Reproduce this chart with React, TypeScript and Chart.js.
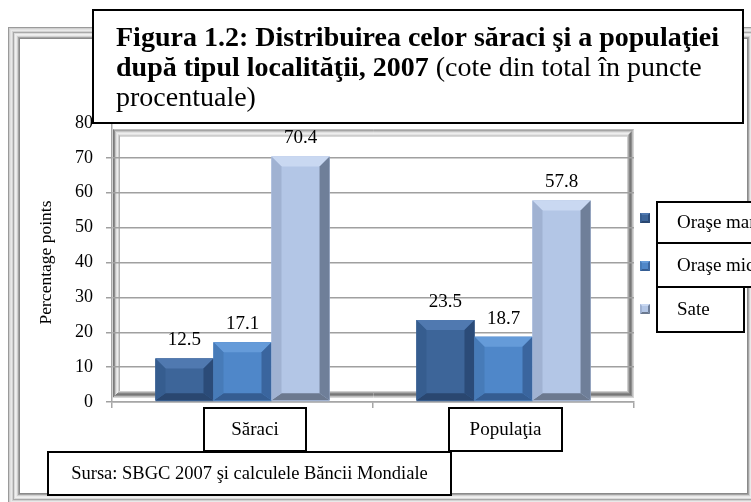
import React, { useEffect, useRef } from 'react';
import { Chart, registerables } from 'chart.js';

Chart.register(...registerables);

// ---------- data ----------
const categories = ['Săraci', 'Populaţia'];
const seriesNames = ['Oraşe mari', 'Oraşe mici', 'Sate'];
const orasMari = [12.5, 23.5];
const orasMici = [17.1, 18.7];
const sate = [70.4, 57.8];
const yMin = 0;
const yMax = 80;
const yStep = 10;
const yAxisTitle = 'Percentage points';
const titleLine1Bold = 'Figura 1.2: Distribuirea celor săraci şi a populaţiei';
const titleLine2Bold = 'după tipul localităţii, 2007';
const titleLine2Regular = ' (cote din total în puncte';
const titleLine3Regular = 'procentuale)';
const sourceText = 'Sursa: SBGC 2007 şi calculele Băncii Mondiale';

// ---------- styles ----------
const SERIF = "'Liberation Serif', 'Times New Roman', Times, serif";
type Pal = { face: string; top: string; left: string; right: string; bottom: string };
const palettes: Pal[] = [
  { face: '#3d6599', top: '#5079b0', left: '#365d8f', right: '#2b4b78', bottom: '#2a4770' },
  { face: '#4f87c9', top: '#659bd9', left: '#477bb8', right: '#3a659e', bottom: '#355d92' },
  { face: '#b3c6e6', top: '#c9d8f1', left: '#a0b2d2', right: '#6f7f99', bottom: '#6c798f' },
];

function bevelRect(ctx: CanvasRenderingContext2D, l: number, t: number, r: number, b: number, p: Pal, size: number) {
  const s = Math.max(0, Math.min(size, (b - t) / 2.2, (r - l) / 2.2));
  const sb = Math.min(s, 7);
  ctx.fillStyle = p.face;
  ctx.fillRect(l, t, r - l, b - t);
  const poly = (pts: number[][], c: string) => {
    ctx.beginPath();
    ctx.moveTo(pts[0][0], pts[0][1]);
    for (let i = 1; i < pts.length; i++) ctx.lineTo(pts[i][0], pts[i][1]);
    ctx.closePath();
    ctx.fillStyle = c;
    ctx.fill();
  };
  poly([[l, t], [r, t], [r - s, t + s], [l + s, t + s]], p.top);
  poly([[l, b], [r, b], [r - s, b - sb], [l + s, b - sb]], p.bottom);
  poly([[l, t], [l + s, t + s], [l + s, b - sb], [l, b]], p.left);
  poly([[r, t], [r - s, t + s], [r - s, b - sb], [r, b]], p.right);
}

function box(ctx: CanvasRenderingContext2D, x: number, y: number, w: number, h: number) {
  ctx.fillStyle = '#ffffff';
  ctx.fillRect(x, y, w, h);
  ctx.strokeStyle = '#000000';
  ctx.lineWidth = 2;
  ctx.strokeRect(x, y, w, h);
}

const outerTL = ['#9a9a9a', '#cfcfcf', '#e0e0e0', '#e9e9e9', '#d2d2d2', '#a8a8a8', '#dadada', '#f0f0f0', '#e9e9e9', '#d0d0d0', '#a3a3a3', '#8a8a8a'];
const wallTL = ['#7a7a7a', '#8e8e8e', '#c4c4c4', '#e0e0e0', '#ececec', '#d0d0d0', '#b2b2b2'];
const wallBR = ['#d6d6d6', '#bdbdbd', '#8e8e8e', '#777777', '#868686', '#aaaaaa', '#cfcfcf'];

const decor = {
  id: 'decor',
  beforeDraw(chart: any) {
    const ctx: CanvasRenderingContext2D = chart.ctx;
    ctx.save();
    ctx.fillStyle = '#ffffff';
    ctx.fillRect(0, 0, chart.width, chart.height);
    // outer chart frame
    const oL = 8, oT = 27, oR = 759, oB = 505;
    outerTL.forEach((c, i) => {
      ctx.strokeStyle = c;
      ctx.lineWidth = 1;
      ctx.strokeRect(oL + i + 0.5, oT + i + 0.5, oR - oL - 2 * i - 1, oB - oT - 2 * i - 1);
    });
    // plot wall frame
    const a = chart.chartArea;
    const L = a.left + 1, T = a.top + 6.5, R = a.right, B = a.bottom - 4;
    for (let i = 0; i < wallTL.length; i++) {
      ctx.lineWidth = 1;
      ctx.strokeStyle = wallTL[i];
      ctx.beginPath();
      ctx.moveTo(L + i, T + i + 0.5); ctx.lineTo(R - i, T + i + 0.5);
      ctx.moveTo(L + i + 0.5, T + i); ctx.lineTo(L + i + 0.5, B - i);
      ctx.stroke();
      ctx.strokeStyle = wallBR[i];
      ctx.beginPath();
      ctx.moveTo(L + i, B - i - 0.5); ctx.lineTo(R - i, B - i - 0.5);
      ctx.moveTo(R - i - 0.5, T + i); ctx.lineTo(R - i - 0.5, B - i);
      ctx.stroke();
    }
    ctx.restore();
  },
  afterDatasetsDraw(chart: any) {
    const ctx: CanvasRenderingContext2D = chart.ctx;
    ctx.save();
    chart.data.datasets.forEach((ds: any, di: number) => {
      const meta = chart.getDatasetMeta(di);
      meta.data.forEach((el: any, i: number) => {
        const l = el.x - el.width / 2, r = el.x + el.width / 2;
        const t = Math.min(el.y, el.base), b = Math.max(el.y, el.base) - 1;
        bevelRect(ctx, l, t, r, b, palettes[di], 10);
        ctx.fillStyle = '#000';
        ctx.font = `19px ${SERIF}`;
        ctx.textAlign = 'center';
        ctx.textBaseline = 'middle';
        ctx.fillText(Number(ds.data[i]).toFixed(1), el.x, t - 18);
      });
    });
    ctx.restore();
  },
  afterDraw(chart: any) {
    const ctx: CanvasRenderingContext2D = chart.ctx;
    ctx.save();
    // title box
    box(ctx, 93, 10, 650, 113);
    ctx.fillStyle = '#000';
    ctx.textAlign = 'left';
    ctx.textBaseline = 'alphabetic';
    ctx.font = `bold 28px ${SERIF}`;
    ctx.fillText(titleLine1Bold, 116, 46);
    ctx.fillText(titleLine2Bold, 116, 76);
    const w2 = ctx.measureText(titleLine2Bold).width;
    ctx.font = `28px ${SERIF}`;
    ctx.fillText(titleLine2Regular, 116 + w2, 76);
    ctx.fillText(titleLine3Regular, 116, 106);

    // category label boxes
    const xs = chart.scales.x;
    const catBoxes = [
      { dx: 12.5, w: 102 },
      { dx: 2, w: 113 },
    ];
    ctx.font = `19px ${SERIF}`;
    ctx.textAlign = 'center';
    ctx.textBaseline = 'middle';
    categories.forEach((c, i) => {
      const cx = xs.getPixelForValue(i) + catBoxes[i].dx;
      const w = catBoxes[i].w;
      box(ctx, cx - w / 2, 408, w, 43);
      ctx.fillStyle = '#000';
      ctx.fillText(c, cx, 430);
    });

    // source box
    box(ctx, 48, 452, 403, 43);
    ctx.fillStyle = '#000';
    ctx.font = `18.5px ${SERIF}`;
    ctx.fillText(sourceText, 249.5, 474);

    // legend
    const legRows = [
      { y: 202, h: 41, w: 110, my: 218 },
      { y: 243, h: 44, w: 110, my: 266 },
      { y: 287, h: 45, w: 87, my: 309 },
    ];
    seriesNames.forEach((n, i) => {
      const r = legRows[i];
      bevelRect(ctx, 640, r.my - 5, 650, r.my + 5, palettes[i], 2);
      box(ctx, 657, r.y, r.w, r.h);
      ctx.fillStyle = '#000';
      ctx.font = `19px ${SERIF}`;
      ctx.textAlign = 'left';
      ctx.textBaseline = 'middle';
      ctx.fillText(n, 677, r.y + r.h / 2 + 1);
    });
    ctx.restore();
  },
};

export default function App() {
  const ref = useRef<HTMLCanvasElement>(null);
  useEffect(() => {
    const canvas = ref.current as HTMLCanvasElement;
    const chart = new Chart(canvas, {
      type: 'bar',
      data: {
        labels: categories,
        datasets: [
          { label: seriesNames[0], data: orasMari, backgroundColor: palettes[0].face },
          { label: seriesNames[1], data: orasMici, backgroundColor: palettes[1].face },
          { label: seriesNames[2], data: sate, backgroundColor: palettes[2].face },
        ],
      },
      options: {
        responsive: false,
        animation: false,
        devicePixelRatio: 1,
        layout: { padding: { left: 0, top: 123, right: 117, bottom: 94 } },
        plugins: { legend: { display: false }, tooltip: { enabled: false }, title: { display: false } },
        datasets: { bar: { barPercentage: 1, categoryPercentage: 0.667 } },
        scales: {
          x: {
            type: 'category',
            offset: true,
            grid: { display: true, drawOnChartArea: false, drawTicks: true, tickLength: 6, offset: true, color: '#a6a6a6', lineWidth: 1.5 },
            border: { display: true, color: '#a6a6a6', width: 1.5 },
            ticks: { display: false },
            afterFit: (s: any) => { s.height = 6; },
          },
          y: {
            min: yMin,
            max: yMax,
            ticks: { stepSize: yStep, padding: 13, color: '#000', font: { family: SERIF, size: 18 } },
            grid: {
              color: (c: any) => (c.tick && c.tick.value === yMax ? 'rgba(0,0,0,0)' : '#a0a0a0'),
              lineWidth: 1.5,
              tickLength: 6,
            },
            border: { display: true, color: '#a6a6a6', width: 1.5 },
            title: { display: true, text: yAxisTitle, color: '#000', font: { family: SERIF, size: 17.5 }, padding: { top: 36, bottom: 0 } },
            afterFit: (s: any) => { s.width = 112; },
          },
        },
      },
      plugins: [decor],
    } as any);
    return () => chart.destroy();
  }, []);
  return (
    <div style={{ position: 'absolute', left: 0, top: 0, width: 751, height: 502, background: '#fff' }}>
      <canvas ref={ref} width={751} height={502} style={{ display: 'block' }} />
    </div>
  );
}
